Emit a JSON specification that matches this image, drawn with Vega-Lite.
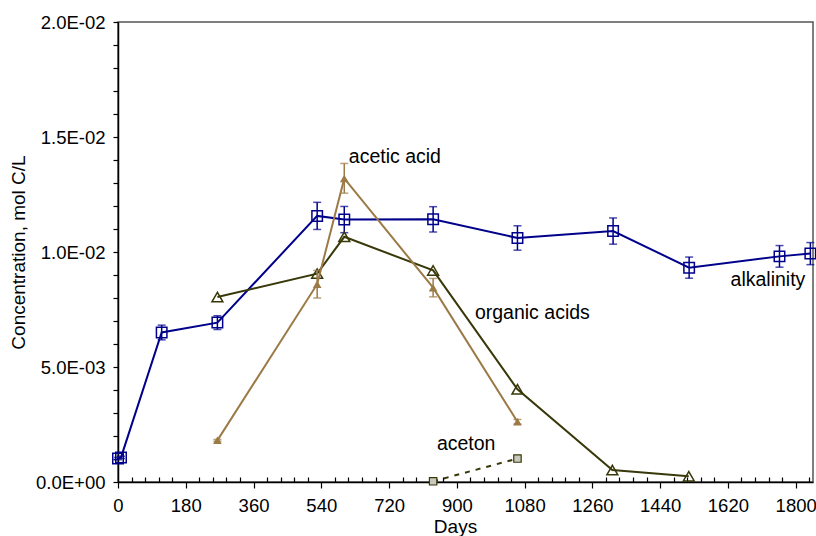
{
  "$schema": "https://vega.github.io/schema/vega-lite/v6.json",
  "width": 695,
  "height": 460,
  "autosize": {"type": "none"},
  "padding": {"left": 118, "top": 22, "right": 3, "bottom": 54},
  "background": "white",
  "config": {
    "font": "Liberation Sans",
    "view": {"stroke": "#555555", "strokeWidth": 1.5},
    "axis": {
      "labelFontSize": 18.5,
      "titleFontSize": 19,
      "titleFontWeight": "normal",
      "labelColor": "black",
      "titleColor": "black",
      "domainColor": "black",
      "domainWidth": 1.5,
      "tickColor": "black",
      "tickWidth": 1.2,
      "grid": false
    }
  },
  "datasets": {
    "alkalinity": [
      {"day": 0, "conc": 0.00102, "lo": 0.00097, "hi": 0.00107},
      {"day": 8, "conc": 0.00107, "lo": 0.00102, "hi": 0.00112},
      {"day": 116, "conc": 0.0065, "lo": 0.00618, "hi": 0.00682},
      {"day": 264, "conc": 0.00693, "lo": 0.00663, "hi": 0.00723},
      {"day": 529, "conc": 0.01157, "lo": 0.01098, "hi": 0.01216},
      {"day": 601, "conc": 0.01141, "lo": 0.01084, "hi": 0.01198},
      {"day": 837, "conc": 0.01142, "lo": 0.01087, "hi": 0.01197},
      {"day": 1061, "conc": 0.01061, "lo": 0.01008, "hi": 0.01114},
      {"day": 1315, "conc": 0.01091, "lo": 0.01034, "hi": 0.01148},
      {"day": 1517, "conc": 0.00932, "lo": 0.00886, "hi": 0.00978},
      {"day": 1757, "conc": 0.00981, "lo": 0.00934, "hi": 0.01028},
      {"day": 1839, "conc": 0.00993, "lo": 0.00945, "hi": 0.01041}
    ],
    "acetic": [
      {"day": 264, "conc": 0.00181, "lo": 0.00177, "hi": 0.00185},
      {"day": 529, "conc": 0.0086, "lo": 0.008, "hi": 0.0092},
      {"day": 601, "conc": 0.0132, "lo": 0.01256, "hi": 0.01385},
      {"day": 837, "conc": 0.00845, "lo": 0.00805, "hi": 0.00885},
      {"day": 1061, "conc": 0.00262, "lo": 0.00252, "hi": 0.00272}
    ],
    "organic": [
      {"day": 264, "conc": 0.00804},
      {"day": 529, "conc": 0.00906},
      {"day": 601, "conc": 0.01066},
      {"day": 837, "conc": 0.0092},
      {"day": 1061, "conc": 0.00403},
      {"day": 1313, "conc": 0.00052},
      {"day": 1516, "conc": 0.00025}
    ],
    "aceton": [
      {"day": 837, "conc": 0.00003},
      {"day": 1061, "conc": 0.00102}
    ],
    "labels": [
      {"text": "acetic acid", "day": 613, "conc": 0.01412},
      {"text": "organic acids", "day": 948, "conc": 0.00733},
      {"text": "alkalinity", "day": 1627, "conc": 0.0088},
      {"text": "aceton", "day": 847, "conc": 0.00165}
    ]
  },
  "encoding": {
    "x": {
      "field": "day", "type": "quantitative",
      "scale": {"domain": [0, 1846], "nice": false, "zero": false},
      "axis": {
        "title": "Days",
        "format": "d",
        "values": [0, 36, 72, 108, 144, 180, 216, 252, 288, 324, 360, 396, 432, 468, 504, 540, 576, 612, 648, 684, 720, 756, 792, 828, 864, 900, 936, 972, 1008, 1044, 1080, 1116, 1152, 1188, 1224, 1260, 1296, 1332, 1368, 1404, 1440, 1476, 1512, 1548, 1584, 1620, 1656, 1692, 1728, 1764, 1800, 1836],
        "labelExpr": "datum.value % 180 === 0 ? datum.label : ''",
        "tickSize": {"condition": {"test": "datum.value % 180 === 0", "value": 6}, "value": -5},
        "labelPadding": 8,
        "labelFlush": false,
        "labelOverlap": false,
        "titlePadding": 3,
        "titleX": 337
      }
    },
    "y": {
      "field": "conc", "type": "quantitative",
      "scale": {"domain": [0, 0.02], "nice": false},
      "axis": {
        "title": "Concentration, mol C/L",
        "values": [0, 0.001, 0.002, 0.003, 0.004, 0.005, 0.006, 0.007, 0.008, 0.009, 0.01, 0.011, 0.012, 0.013, 0.014, 0.015, 0.016, 0.017, 0.018, 0.019, 0.02],
        "labelExpr": "round(datum.value * 1000) % 5 !== 0 ? '' : (round(datum.value * 1000) === 0 ? '0.0E+00' : (round(datum.value * 1000) < 10 ? format(round(datum.value * 1000), '.1f') + 'E-03' : format(round(datum.value * 1000) / 10, '.1f') + 'E-02'))",
        "tickSize": 5,
        "labelPadding": 8,
        "labelFlush": false,
        "labelOverlap": false,
        "titlePadding": 7
      }
    }
  },
  "layer": [
    {
      "data": {"name": "alkalinity"},
      "mark": {"type": "line", "color": "#00008b", "strokeWidth": 2, "point": {"shape": "square", "filled": false, "size": 110, "stroke": "#00008b", "strokeWidth": 1.5}}
    },
    {
      "data": {"name": "alkalinity"},
      "mark": {"type": "errorbar", "color": "#00008b", "thickness": 1.5, "ticks": {"size": 8, "thickness": 1.5, "color": "#00008b"}},
      "encoding": {
        "y": {"field": "lo", "type": "quantitative", "title": "Concentration, mol C/L", "scale": {"domain": [0, 0.02], "nice": false}},
        "y2": {"field": "hi"}
      }
    },
    {
      "data": {"name": "organic"},
      "mark": {"type": "line", "color": "#38380a", "strokeWidth": 2, "point": {"shape": "triangle-up", "filled": false, "size": 120, "stroke": "#38380a", "strokeWidth": 1.5}}
    },
    {
      "data": {"name": "acetic"},
      "mark": {"type": "errorbar", "color": "#9b7a46", "thickness": 1.5, "ticks": {"size": 8, "thickness": 1.5, "color": "#9b7a46"}},
      "encoding": {
        "y": {"field": "lo", "type": "quantitative", "title": "Concentration, mol C/L", "scale": {"domain": [0, 0.02], "nice": false}},
        "y2": {"field": "hi"}
      }
    },
    {
      "data": {"name": "acetic"},
      "mark": {"type": "line", "color": "#9b7a46", "strokeWidth": 2, "point": {"shape": "triangle-up", "filled": true, "size": 75, "color": "#9b7a46"}}
    },
    {
      "data": {"name": "aceton"},
      "mark": {"type": "line", "color": "#38380a", "strokeWidth": 2, "strokeDash": [5, 6]}
    },
    {
      "data": {"name": "aceton"},
      "mark": {"type": "point", "shape": "square", "filled": true, "size": 55, "fill": "#c8c8bc", "stroke": "#38380a", "strokeWidth": 1.2, "opacity": 1}
    },
    {
      "data": {"name": "labels"},
      "mark": {"type": "text", "align": "left", "baseline": "middle", "fontSize": 19.5, "color": "black", "font": "Liberation Sans"},
      "encoding": {
        "text": {"field": "text"}
      }
    }
  ]
}
